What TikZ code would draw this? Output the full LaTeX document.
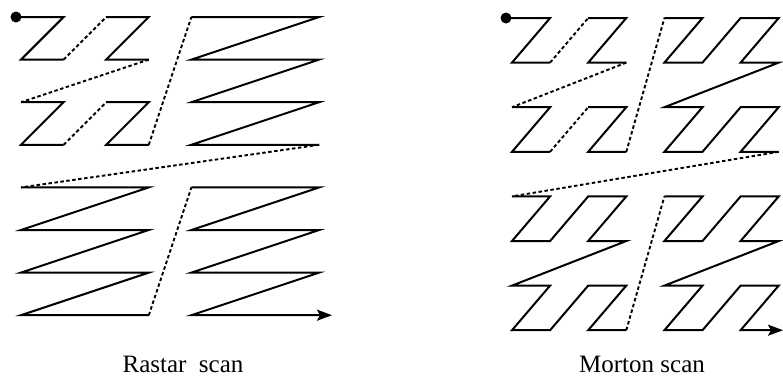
\documentclass[tikz,border=0pt]{standalone}
\usepackage{fontspec}
\setmainfont{Liberation Serif}
\usetikzlibrary{arrows.meta}
\begin{document}
\begin{tikzpicture}[x=1pt,y=-1pt,
  solidline/.style={line width=2pt,line join=miter},
  dotline/.style={line width=1.9pt,dash pattern=on 3.5pt off 2.5pt},
  startdot/.style={circle,fill=black,inner sep=0pt,minimum size=11pt},
  tip/.style={-{Stealth[length=15pt,width=11pt,inset=3pt]}},
  caption/.style={font=\fontsize{25}{29}\selectfont,anchor=base,inner sep=0pt}]
\useasboundingbox (0,0) rectangle (783,376);
% grids
\foreach \i in {0,...,7}{
  \foreach \j in {0,...,7}{
    \coordinate (R\i\j) at ({21+42.6*\i},{17+42.6*\j});
    \coordinate (M\i\j) at ({512+38.1*\i},{18+44.6*\j});
  }
}
\coordinate (Rend) at (332,{17+42.6*7});
\coordinate (Mend) at (783,{18+44.6*7});
\node[startdot] (rdot) at (16,17) {};
\node[startdot] (mdot) at (506,18) {};
% ---------------- Raster scan ----------------
\draw[solidline] (rdot.center)--(R10)--(R01)--(R11);
\draw[dotline] (R11)--(R20);
\draw[solidline] (R20)--(R30)--(R21)--(R31);
\draw[dotline] (R31)--(R02);
\draw[solidline] (R02)--(R12)--(R03)--(R13);
\draw[dotline] (R13)--(R22);
\draw[solidline] (R22)--(R32)--(R23)--(R33);
\draw[dotline] (R33)--(R40);
\draw[solidline] (R40)--(R70)--(R41)--(R71)--(R42)--(R72)--(R43)--(R73);
\draw[dotline] (R73)--(R04);
\draw[solidline] (R04)--(R34)--(R05)--(R35)--(R06)--(R36)--(R07)--(R37);
\draw[dotline] (R37)--(R44);
\draw[solidline,tip] (R44)--(R74)--(R45)--(R75)--(R46)--(R76)--(R47)--(Rend);
% ---------------- Morton scan ----------------
\draw[solidline] (mdot.center)--(M10)--(M01)--(M11);
\draw[dotline] (M11)--(M20);
\draw[solidline] (M20)--(M30)--(M21)--(M31);
\draw[dotline] (M31)--(M02);
\draw[solidline] (M02)--(M12)--(M03)--(M13);
\draw[dotline] (M13)--(M22);
\draw[solidline] (M22)--(M32)--(M23)--(M33);
\draw[dotline] (M33)--(M40);
\draw[solidline] (M40)--(M50)--(M41)--(M51)--(M60)--(M70)--(M61)--(M71)--(M42)--(M52)--(M43)--(M53)--(M62)--(M72)--(M63)--(M73);
\draw[dotline] (M73)--(M04);
\draw[solidline] (M04)--(M14)--(M05)--(M15)--(M24)--(M34)--(M25)--(M35)--(M06)--(M16)--(M07)--(M17)--(M26)--(M36)--(M27)--(M37);
\draw[dotline] (M37)--(M44);
\draw[solidline,tip] (M44)--(M54)--(M45)--(M55)--(M64)--(M74)--(M65)--(M75)--(M46)--(M56)--(M47)--(M57)--(M66)--(M76)--(M67)--(Mend);
% captions
\node[caption] (rcap) at (183,372) {Rastar~ scan};
\node[caption] (mcap) at (642,372) {Morton scan};
\end{tikzpicture}
\end{document}
